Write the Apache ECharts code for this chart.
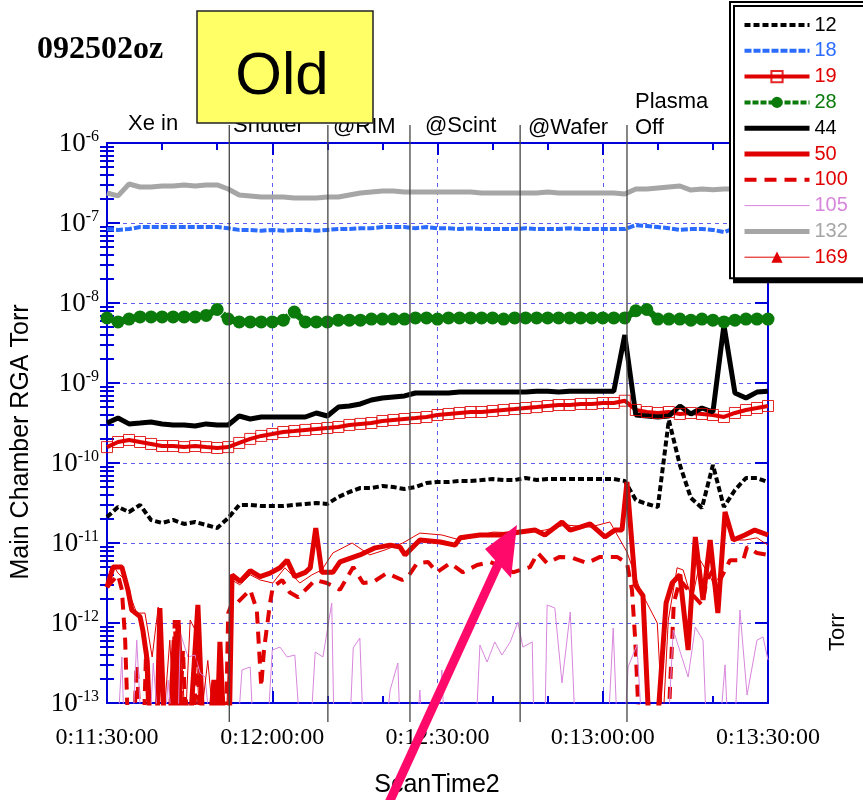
<!DOCTYPE html>
<html><head><meta charset="utf-8">
<script src="https://cdn.jsdelivr.net/npm/echarts@6/dist/echarts.min.js"></script>
<style>html,body{margin:0;padding:0;background:#fff}#c{width:863px;height:800px}</style>
</head><body><div id="c"></div><script>
// ---------- data ----------
const xTickLabels = ['0:11:30:00','0:12:00:00','0:12:30:00','0:13:00:00','0:13:30:00'];
const yTickExponents = ['-13','-12','-11','-10','-9','-8','-7','-6'];
const eventTimes = [22.2, 40.1, 55.0, 75.0, 94.4];
const seriesNames = ['12','18','19','28','44','50','100','105','132','169'];

const coarseTimes = [0,2,4,6,8,10,12,14,16,18,20,22,24,26,28,30,32,34,36,38,40,42,44,46,48,50,52,54,56,58,60,62,64,66,68,70,72,74,76,78,80,82,84,86,88,90,92,94,96,98,100,102,104,106,108,110,112,114,116,118,120];

const s132 = [2.37e-7,2.18e-7,3.07e-7,2.82e-7,2.82e-7,2.9e-7,2.9e-7,2.99e-7,2.9e-7,2.99e-7,
 2.99e-7,2.66e-7,2.24e-7,2.18e-7,2.11e-7,2.11e-7,2.11e-7,2.05e-7,2.05e-7,2.05e-7,
 2.11e-7,2.11e-7,2.24e-7,2.37e-7,2.44e-7,2.51e-7,2.51e-7,2.44e-7,2.44e-7,2.44e-7,
 2.44e-7,2.44e-7,2.44e-7,2.44e-7,2.37e-7,2.37e-7,2.37e-7,2.37e-7,2.37e-7,2.37e-7,
 2.44e-7,2.37e-7,2.37e-7,2.37e-7,2.37e-7,2.37e-7,2.37e-7,2.3e-7,2.66e-7,2.66e-7,
 2.74e-7,2.82e-7,2.9e-7,2.58e-7,2.66e-7,2.6e-7,2.66e-7,2.66e-7,2.66e-7,2.66e-7,2.66e-7];
const s18 = [8.4e-8,8.2e-8,8.4e-8,8.9e-8,8.9e-8,8.9e-8,8.9e-8,8.9e-8,8.9e-8,8.9e-8,
 8.9e-8,8.6e-8,8.2e-8,8.2e-8,8.0e-8,8.2e-8,8.0e-8,8.2e-8,8.2e-8,8.0e-8,
 8.2e-8,8.4e-8,8.4e-8,8.6e-8,8.6e-8,8.9e-8,8.9e-8,8.9e-8,8.6e-8,8.9e-8,
 8.6e-8,8.6e-8,8.4e-8,8.6e-8,8.4e-8,8.4e-8,8.4e-8,8.4e-8,8.6e-8,8.4e-8,
 8.4e-8,8.4e-8,8.6e-8,8.4e-8,8.4e-8,8.4e-8,8.4e-8,8.4e-8,9.4e-8,9.2e-8,
 8.9e-8,8.6e-8,8.2e-8,8.4e-8,8.4e-8,8.2e-8,7.7e-8,8.6e-8,8.4e-8,8.2e-8,8.2e-8];
const s28 = [6.5e-9,5.8e-9,6.3e-9,6.7e-9,6.7e-9,6.7e-9,6.7e-9,6.7e-9,6.7e-9,7.0e-9,
 8.3e-9,6.3e-9,5.8e-9,5.8e-9,5.8e-9,5.8e-9,6.1e-9,7.7e-9,5.8e-9,5.8e-9,
 5.8e-9,6.1e-9,6.1e-9,6.1e-9,6.3e-9,6.3e-9,6.3e-9,6.3e-9,6.5e-9,6.5e-9,
 6.3e-9,6.5e-9,6.5e-9,6.5e-9,6.5e-9,6.5e-9,6.3e-9,6.5e-9,6.5e-9,6.5e-9,
 6.5e-9,6.5e-9,6.5e-9,6.5e-9,6.5e-9,6.5e-9,6.5e-9,6.5e-9,8.0e-9,8.3e-9,
 6.3e-9,6.3e-9,6.3e-9,6.1e-9,6.3e-9,6.1e-9,5.8e-9,6.1e-9,6.3e-9,6.3e-9,6.3e-9];
const s44 = [3.16e-10,3.65e-10,3.08e-10,3.16e-10,3.25e-10,3.08e-10,2.99e-10,2.99e-10,2.9e-10,3.08e-10,
 2.99e-10,2.99e-10,3.87e-10,3.55e-10,3.76e-10,3.76e-10,3.76e-10,3.76e-10,3.76e-10,4.22e-10,
 3.87e-10,5.0e-10,5.16e-10,5.47e-10,6.13e-10,6.5e-10,6.7e-10,6.9e-10,7.5e-10,7.5e-10,
 7.5e-10,7.5e-10,7.7e-10,7.7e-10,7.7e-10,7.7e-10,7.7e-10,7.7e-10,7.7e-10,7.9e-10,
 7.9e-10,7.7e-10,7.9e-10,7.9e-10,7.9e-10,7.9e-10,7.9e-10,3.98e-9,3.98e-10,3.87e-10,
 3.76e-10,3.87e-10,5.16e-10,4.1e-10,4.87e-10,4.34e-10,5.3e-9,7.5e-10,6.5e-10,7.7e-10,7.9e-10];
const s19 = [1.58e-10,1.83e-10,1.94e-10,1.83e-10,1.73e-10,1.63e-10,1.63e-10,1.58e-10,1.63e-10,1.58e-10,
 1.54e-10,1.58e-10,1.78e-10,2.0e-10,2.18e-10,2.3e-10,2.44e-10,2.51e-10,2.59e-10,2.66e-10,
 2.74e-10,2.82e-10,2.99e-10,3.08e-10,3.16e-10,3.35e-10,3.45e-10,3.55e-10,3.65e-10,3.76e-10,
 3.98e-10,4.1e-10,4.22e-10,4.34e-10,4.34e-10,4.47e-10,4.6e-10,4.73e-10,4.87e-10,5.0e-10,
 5.16e-10,5.31e-10,5.31e-10,5.47e-10,5.47e-10,5.62e-10,5.62e-10,6.0e-10,4.6e-10,4.34e-10,
 4.22e-10,4.34e-10,4.1e-10,4.22e-10,4.1e-10,3.98e-10,3.76e-10,4.22e-10,4.6e-10,4.87e-10,5.16e-10];
const s12 = [2.11e-11,2.82e-11,2.44e-11,2.99e-11,1.94e-11,1.78e-11,1.94e-11,1.73e-11,1.83e-11,1.68e-11,
 1.54e-11,2.05e-11,2.99e-11,2.99e-11,2.9e-11,2.9e-11,2.9e-11,2.99e-11,3.08e-11,3.16e-11,
 3.08e-11,3.76e-11,4.34e-11,4.87e-11,4.87e-11,5.16e-11,5.0e-11,4.73e-11,5.0e-11,5.62e-11,
 5.79e-11,5.79e-11,5.96e-11,5.96e-11,6.13e-11,6.31e-11,6.13e-11,6.13e-11,6.49e-11,6.13e-11,
 6.31e-11,6.31e-11,6.31e-11,6.31e-11,6.31e-11,6.31e-11,6.31e-11,5.96e-11,3.45e-11,3.08e-11,
 2.82e-11,3.45e-10,9.44e-11,3.65e-11,2.74e-11,9.44e-11,2.82e-11,4.6e-11,6.49e-11,6.49e-11,5.79e-11];

// spiky low-level channels (own time stamps, seconds after 0:11:30); 5e-14 = below the axis floor
const t50 = [0,1.1,2.7,3.8,4.5,6.0,6.5,7.3,7.8,9.1,
 9.6,10.4,11.4,12.2,12.5,12.9,13.4,14.2,15.1,16.5,
 17.4,18.7,19.4,20.0,20.5,21.2,22.2,22.7,24.2,26.0,
 27.8,29.6,31.4,32.7,34.1,36.0,36.9,37.9,39.0,41.0,
 42.3,45.9,48.7,51.4,53.2,54.1,55.0,56.8,60.5,63.2,
 64.1,67.7,71.4,75.0,77.7,79.5,82.6,84.1,85.9,87.7,
 90.4,92.2,93.5,94.4,95.9,97.3,98.4,99.9,101.5,102.6,
 104.0,105.5,106.8,108.2,109.5,110.9,112.2,113.7,115.8,117.6,
 120];
const v50 = [2.8e-12,5.0e-12,5.0e-12,2.6e-12,1.45e-12,1.2e-12,8.2e-13,3.4e-13,5e-14,5e-14,
 1.54e-12,5e-14,5e-14,6.1e-13,5e-14,1.09e-12,5e-14,1.1e-13,5e-14,1.68e-12,
 5e-14,5e-14,1.94e-13,5e-14,5.8e-13,5e-14,5e-14,4.0e-12,3.3e-12,4.5e-12,
 3.8e-12,4.2e-12,4.9e-12,6.1e-12,3.8e-12,4.3e-12,4.9e-12,1.54e-11,4.3e-12,4.3e-12,
 5.8e-12,7.1e-12,8.7e-12,9.4e-12,8.9e-12,7.1e-12,8.2e-12,1.09e-11,1.03e-11,9.4e-12,
 1.16e-11,1.26e-11,1.26e-11,1.37e-11,1.45e-11,1.26e-11,1.83e-11,1.45e-11,1.58e-11,1.73e-11,
 1.19e-11,1.45e-11,1.45e-11,5.79e-11,3.0e-12,2.2e-12,5e-14,5e-14,1.78e-12,3.16e-12,
 4.0e-12,4.6e-13,1.19e-11,1.94e-12,1.09e-11,1.33e-12,2.44e-11,1.09e-11,1.26e-11,1.45e-11,
 1.26e-11];

const t100 = [0,2.0,2.7,3.3,3.8,4.9,5.4,6.0,6.7,7.1,
 7.6,11.8,12.3,13.1,13.4,13.8,14.3,15.8,16.3,16.9,
 19.6,20.2,20.7,21.6,22.0,22.9,23.8,26.0,27.2,28.0,
 28.5,29.6,30.1,31.8,33.2,34.7,36.5,37.8,39.9,42.3,
 44.7,46.5,48.3,50.8,53.6,54.6,56.3,58.3,59.9,62.3,
 64.6,67.2,69.5,71.9,73.7,76.8,78.2,79.9,82.2,84.6,
 87.1,89.5,92.6,94.4,95.3,95.9,96.6,101.9,102.6,102.9,
 104.0,105.5,108.0,108.9,110.0,111.3,113.1,115.5,116.2,118.0,
 120];
const v100 = [2.8e-12,4.0e-12,2.6e-12,6.1e-13,5e-14,5e-14,3.0e-13,5e-14,5e-14,4.6e-13,
 5e-14,5e-14,1.09e-12,5e-14,5e-14,4.6e-13,5e-14,5e-14,6.1e-13,5e-14,
 5e-14,1.94e-13,5e-14,5e-14,1.33e-12,1.94e-12,1.83e-12,2.6e-12,1.45e-12,1.6e-13,
 4.6e-13,1.78e-12,2.8e-12,3.45e-12,2.4e-12,2.1e-12,2.8e-12,3.45e-12,3.16e-12,2.6e-12,
 5.0e-12,3.16e-12,3.25e-12,4.2e-12,3.45e-12,3.76e-12,5.6e-12,5.8e-12,4.3e-12,5.6e-12,
 4.3e-12,5.3e-12,5.8e-12,5.0e-12,4.3e-12,5.0e-12,7.5e-12,5.6e-12,6.7e-12,6.5e-12,
 5.6e-12,6.7e-12,6.7e-12,5.6e-12,2.6e-12,6.1e-13,5e-14,5e-14,6.1e-13,1.78e-12,
 3.45e-12,2.6e-12,1.68e-12,3.45e-12,4.6e-12,3.45e-12,6.1e-12,6.1e-12,8.9e-12,7.5e-12,
 7.1e-12];

const t169 = [0,1.1,2.0,3.3,4.5,5.4,6.9,8.2,9.3,10.2,
 11.4,12.3,13.3,14.2,15.1,16.0,16.9,18.3,19.4,20.5,
 21.6,22.7,24.1,26.0,27.8,30.1,32.3,35.0,37.2,39.0,
 41.0,44.5,47.7,50.5,53.7,56.8,60.8,64.1,70.1,75.0,
 79.5,83.2,87.7,91.3,94.4,96.8,98.2,99.9,100.9,101.9,
 103.5,104.6,106.2,107.7,109.8,110.9,112.2,114.0,115.8,118.0,
 120];
const v169 = [3.45e-12,5.3e-12,4.2e-12,3.45e-12,1.94e-12,1.33e-12,1.33e-12,3.76e-13,1.58e-12,5e-14,
 6.1e-13,5e-14,9.4e-13,5e-14,1.09e-12,8.2e-13,5e-14,3.4e-13,5e-14,4.6e-13,
 5e-14,3.45e-12,3.0e-12,4.0e-12,3.45e-12,3.16e-12,4.9e-12,3.16e-12,4.0e-12,4.6e-12,
 7.5e-12,1.0e-11,7.1e-12,8.2e-12,1.0e-11,1.33e-11,1.26e-11,1.09e-11,1.37e-11,1.33e-11,
 1.45e-11,1.68e-11,1.58e-11,1.83e-11,7.7e-12,2.6e-12,1.68e-12,1.0e-12,5e-14,1.09e-12,
 4.9e-12,4.6e-12,1.94e-12,6.1e-12,3.45e-12,1.94e-12,1.94e-11,1.09e-11,1.09e-11,1.16e-11,
 9.4e-12];

const t105 = [0,2.0,2.7,3.1,4.7,5.4,6.2,7.8,8.4,9.3,
 10.5,11.1,11.8,12.9,13.3,14.7,16.0,16.9,17.8,18.7,
 23.8,24.5,26.0,26.5,29.2,30.0,31.4,32.7,34.1,35.0,
 37.0,37.8,39.2,40.8,41.2,44.1,44.7,45.9,46.5,50.7,
 51.4,52.8,53.2,56.3,56.8,57.2,60.1,60.8,61.2,67.0,
 67.7,69.0,70.4,71.7,73.2,74.6,75.5,77.2,77.5,79.5,
 79.9,81.3,82.6,84.1,85.0,91.0,91.9,92.6,94.0,94.6,
 96.2,97.1,101.9,102.8,105.5,106.8,108.2,108.8,111.3,112.2,
 112.7,114.0,114.9,116.2,118.0,119.1,120];
const v105 = [5e-14,5e-14,3.76e-13,5e-14,5e-14,6.1e-13,5e-14,5e-14,3.16e-13,5e-14,
 5e-14,1.94e-13,5e-14,5e-14,7.5e-13,3.76e-13,3.98e-13,2.37e-13,2.11e-13,5e-14,
 5e-14,2.59e-13,2.82e-13,5e-14,5e-14,4.6e-13,5.0e-13,3.76e-13,3.98e-13,5e-14,
 5e-14,4.34e-13,3.76e-13,1.78e-12,5e-14,5e-14,4.87e-13,6.49e-13,5e-14,5e-14,
 1.45e-13,3.16e-13,5e-14,5e-14,1.45e-13,5e-14,5e-14,2.59e-13,5e-14,5e-14,
 5.3e-13,3.25e-13,5.8e-13,3.98e-13,5.8e-13,1.03e-12,5.0e-13,5.8e-13,5e-14,5e-14,
 1.68e-12,1.54e-12,1.78e-13,1.37e-12,5e-14,5e-14,8.66e-13,5e-14,5e-14,2.82e-13,
 5.3e-13,5e-14,5e-14,8.2e-13,2.11e-13,8.9e-13,6.1e-13,5e-14,5e-14,3.0e-13,
 5e-14,5e-14,1.45e-12,1.26e-13,6.1e-13,6.7e-13,3.45e-13];

// ---------- chart ----------
const AXIS = '#0000d8';
const GRIDC = '#5c5cf0';
const RED = '#e00000';
const SANS = '"Liberation Sans", Arial, sans-serif';
const SERIF = '"Liberation Serif", "Times New Roman", serif';

const yMinor = [];
for (let e = -13; e < -6; e++) for (let k = 2; k <= 9; k++) yMinor.push(k * Math.pow(10, e));

const pair = (ts, vs) => ts.map((t, i) => [t, vs[i]]);

function lineSeries(name, data, extra) {
  return Object.assign({
    name, type: 'line', data, xAxisIndex: 0, yAxisIndex: 0,
    symbol: 'none', clip: true, silent: true, animation: false,
    emphasis: { disabled: true }
  }, extra);
}

const series = [
  lineSeries('12', pair(coarseTimes, s12), { color: '#000', lineStyle: { color: '#000', width: 4, type: [6, 3] } }),
  lineSeries('18', pair(coarseTimes, s18), { color: '#2b6cff', lineStyle: { color: '#2b6cff', width: 4, type: [7, 2] } }),
  lineSeries('19', pair(coarseTimes, s19), { color: RED, lineStyle: { color: RED, width: 4 },
     symbol: 'rect', symbolSize: 11, showSymbol: true, showAllSymbol: true,
     itemStyle: { color: 'rgba(255,255,255,0)', borderColor: 'rgba(224,0,0,0.85)', borderWidth: 1 } }),
  lineSeries('28', pair(coarseTimes, s28), { color: '#0a7a0a', lineStyle: { color: '#0a7a0a', width: 7, type: [6, 2] },
     symbol: 'circle', symbolSize: 13, showSymbol: true, showAllSymbol: true,
     itemStyle: { color: '#0a7a0a' } }),
  lineSeries('44', pair(coarseTimes, s44), { color: '#000', lineStyle: { color: '#000', width: 5 } }),
  lineSeries('50', pair(t50, v50), { color: RED, lineStyle: { color: RED, width: 5 } }),
  lineSeries('100', pair(t100, v100), { color: RED, lineStyle: { color: RED, width: 4, type: [12, 8] } }),
  lineSeries('105', pair(t105, v105), { color: '#d886dc', lineStyle: { color: '#d886dc', width: 1 } }),
  lineSeries('132', pair(coarseTimes, s132), { color: '#a6a6a6', lineStyle: { color: '#a6a6a6', width: 5 } }),
  lineSeries('169', pair(t169, v169), { color: RED, lineStyle: { color: RED, width: 1 },
     symbol: 'triangle', symbolSize: 13, showSymbol: false, itemStyle: { color: RED } })
];

const legendColors = ['#000', '#2b6cff', RED, '#0a7a0a', '#000', RED, RED, '#d886dc', '#a6a6a6', RED];
const legendHasMarker = [false, false, true, true, false, false, false, false, false, true];

const xBase = {
  type: 'value', min: 0, max: 120, interval: 30, gridIndex: 0,
  axisLine: { show: true, onZero: false, lineStyle: { color: AXIS, width: 2 } },
  axisTick: { show: true, inside: true, length: 12, lineStyle: { color: AXIS, width: 2 } },
  minorTick: { show: true, splitNumber: 3, length: 7, lineStyle: { color: AXIS, width: 2 } }
};
const yBase = {
  type: 'log', logBase: 10, min: 1e-13, max: 1e-6, splitNumber: 7, gridIndex: 0
};

const option = {
  animation: false,
  backgroundColor: '#fff',
  grid: { left: 107, top: 143, width: 661, height: 560, containLabel: false },
  xAxis: [
    Object.assign({}, xBase, {
      position: 'bottom',
      axisLabel: { formatter: v => xTickLabels[Math.round(v / 30)], fontFamily: SERIF, fontSize: 24, color: '#000', margin: 23 },
      splitLine: { show: true, lineStyle: { color: GRIDC, type: [4, 4], width: 1 } }
    }),
    Object.assign({}, xBase, { position: 'top', axisLabel: { show: false }, splitLine: { show: false } })
  ],
  yAxis: [
    Object.assign({}, yBase, {
      position: 'left',
      axisLine: { show: true, onZero: false, lineStyle: { color: AXIS, width: 2 } },
      axisTick: { show: true, inside: true, length: 13, lineStyle: { color: AXIS, width: 2 } },
      axisLabel: {
        margin: 8,
        formatter: v => '{b|10}{s|' + yTickExponents[Math.round(Math.log10(v)) + 13] + '}',
        rich: {
          b: { fontFamily: SERIF, fontSize: 27, color: '#000', verticalAlign: 'bottom', lineHeight: 28 },
          s: { fontFamily: SERIF, fontSize: 16, color: '#000', verticalAlign: 'top', lineHeight: 16 }
        }
      },
      splitLine: { show: true, lineStyle: { color: GRIDC, type: [4, 4], width: 1 } }
    }),
    Object.assign({}, yBase, {
      position: 'left',
      axisLine: { show: false },
      axisTick: { show: true, inside: true, length: 7, customValues: yMinor, lineStyle: { color: AXIS, width: 2 } },
      axisLabel: { show: false }, splitLine: { show: false }
    }),
    Object.assign({}, yBase, {
      position: 'right',
      axisLine: { show: true, onZero: false, lineStyle: { color: AXIS, width: 2 } },
      axisTick: { show: true, inside: true, length: 13, lineStyle: { color: AXIS, width: 2 } },
      axisLabel: { show: false }, splitLine: { show: false }
    }),
    Object.assign({}, yBase, {
      position: 'right',
      axisLine: { show: false },
      axisTick: { show: true, inside: true, length: 7, customValues: yMinor, lineStyle: { color: AXIS, width: 2 } },
      axisLabel: { show: false }, splitLine: { show: false }
    })
  ],
  legend: {
    orient: 'vertical', left: 730, top: 2,
    itemWidth: 65, itemHeight: 14, itemGap: 5.8,
    padding: [13, 18, 11, 12],
    backgroundColor: '#fff', borderColor: '#000', borderWidth: 2,
    shadowColor: '#000', shadowOffsetX: 4, shadowOffsetY: 4, shadowBlur: 0,
    lineStyle: { width: 'inherit' },
    selectedMode: false,
    textStyle: { fontFamily: SANS, fontSize: 20, lineHeight: 20 },
    data: seriesNames.map((n, i) => {
      const item = { name: n, textStyle: { color: legendColors[i] } };
      if (!legendHasMarker[i]) item.itemStyle = { opacity: 0 };
      if (n === '28') item.lineStyle = { width: 4 };
      return item;
    })
  },
  series
};

const chart = echarts.init(document.getElementById('c'), null, { renderer: 'canvas' });
chart.setOption(option);

// ---------- annotations ----------
const g = [];
eventTimes.forEach(t => {
  const x = chart.convertToPixel({ xAxisIndex: 0 }, t);
  g.push({ type: 'line', z: 50, silent: true, shape: { x1: x, y1: 125, x2: x, y2: 722 },
           style: { stroke: '#444', lineWidth: 1.3 } });
});
const lab = (text, x, y, extra) => Object.assign({ type: 'text', z: 60, silent: true, x, y,
  style: Object.assign({ text, font: '22px ' + SANS, fill: '#000', align: 'left', verticalAlign: 'bottom' }, extra || {}) });
g.push(lab('Xe in', 128, 135));
g.push(lab('Shutter', 233, 137));
g.push(lab('@RIM', 333, 138));
g.push(lab('@Scint', 425, 137));
g.push(lab('@Wafer', 528, 139));
g.push(lab('Plasma', 635, 113));
g.push(lab('Off', 635, 139));
// "Old" box
g.push({ type: 'rect', z: 80, silent: true, shape: { x: 197, y: 11, width: 176, height: 112 },
         style: { fill: '#ffff66', stroke: '#222', lineWidth: 1.5 } });
g.push({ type: 'text', z: 81, silent: true, x: 282, y: 77,
         style: { text: 'Old', font: '60px ' + SANS, fill: '#000', align: 'center', verticalAlign: 'middle' } });
// title
g.push({ type: 'text', z: 60, silent: true, x: 37, y: 50,
         style: { text: '092502oz', font: 'bold 32px ' + SERIF, fill: '#000', align: 'left', verticalAlign: 'middle' } });
// axis names
g.push({ type: 'text', z: 60, silent: true, x: 21, y: 442, rotation: Math.PI / 2,
         style: { text: 'Main Chamber RGA Torr', font: '25px ' + SANS, fill: '#000', align: 'center', verticalAlign: 'middle' } });
g.push({ type: 'text', z: 60, silent: true, x: 838, y: 632, rotation: Math.PI / 2,
         style: { text: 'Torr', font: '22px ' + SANS, fill: '#000', align: 'center', verticalAlign: 'middle' } });
g.push({ type: 'text', z: 60, silent: true, x: 437, y: 785,
         style: { text: 'ScanTime2', font: '25px ' + SANS, fill: '#000', align: 'center', verticalAlign: 'middle' } });
// pink arrow
g.push({ type: 'line', z: 90, silent: true, shape: { x1: 388, y1: 805, x2: 501, y2: 558 },
         style: { stroke: '#ff0a6a', lineWidth: 9 } });
g.push({ type: 'polygon', z: 90, silent: true, shape: { points: [[517, 525], [485, 549], [511, 578]] },
         style: { fill: '#ff0a6a' } });
chart.setOption({ graphic: g });
</script></body></html>
